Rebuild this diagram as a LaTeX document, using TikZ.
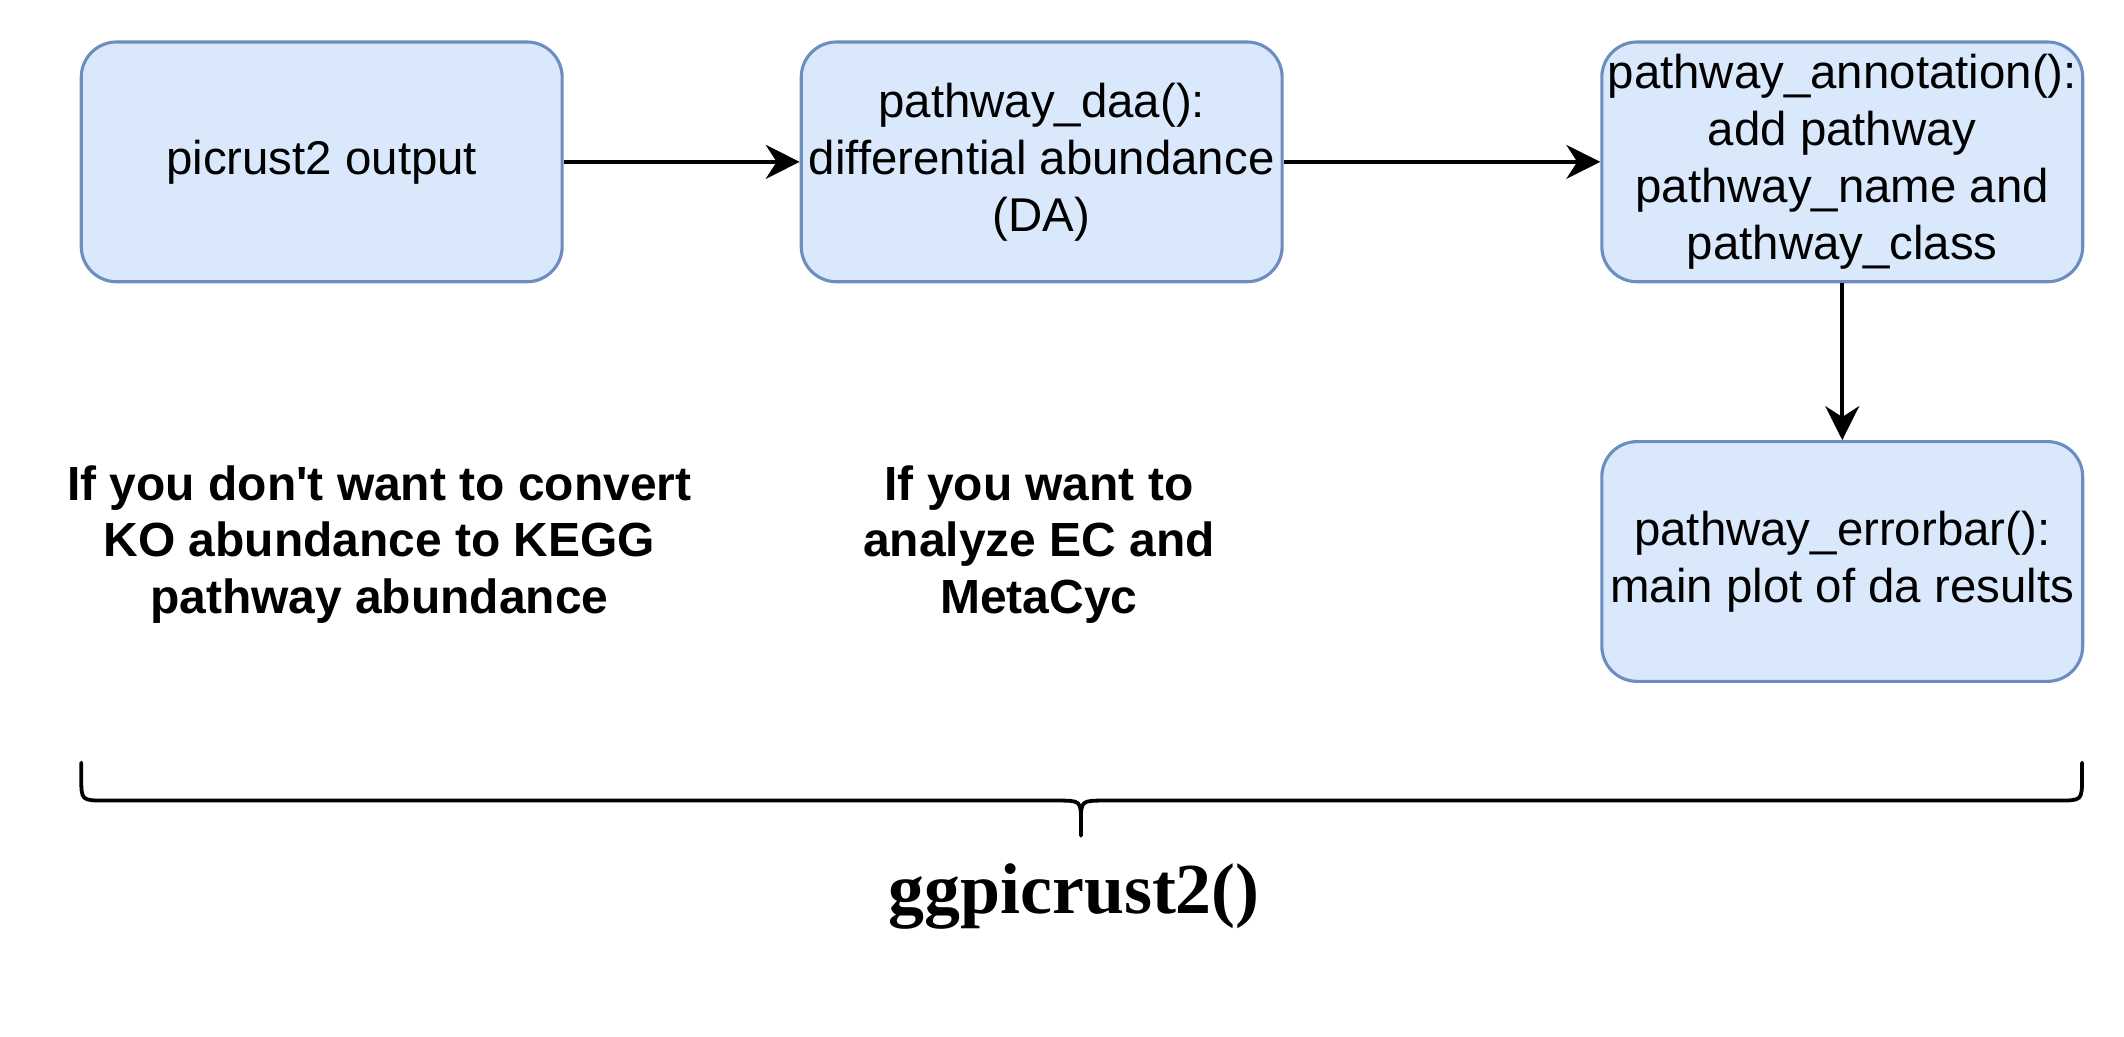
\documentclass[tikz,border=0pt]{standalone}
\usepackage{fontspec}
\setmainfont{Liberation Sans}[Ligatures=TeXOff]
\newfontfamily\titlefont{Liberation Serif}
\usetikzlibrary{arrows.meta}
\definecolor{boxfill}{HTML}{DAE8FC}
\definecolor{boxline}{HTML}{6C8EBF}
\begin{document}
\begin{tikzpicture}[x=1pt,y=-1pt,
  box/.style={draw=boxline, fill=boxfill, line width=2.3pt, rounded corners=26pt,
    minimum width=355pt, minimum height=177pt, align=center, inner sep=0pt,
    font=\fontsize{35}{42}\selectfont},
  note/.style={align=center, inner sep=0pt, font=\bfseries\fontsize{35.4}{42}\selectfont},
  flow/.style={line width=2.8pt, -{Stealth[length=25pt, width=25pt, inset=8pt]}},
  bracepath/.style={line width=2.8pt, line cap=round, line join=round}]
\useasboundingbox (0,0) rectangle (1568,765);
\node[box] (out) at (237.5,119.5) {picrust2 output};
\node[box] (daa) at (769,119.5) {pathway\_daa():\\differential abundance\\(DA)};
\node[box] (ann) at (1360,119.5) {pathway\_annotation():\\add pathway\\pathway\_name and\\pathway\_class};
\node[box] (err) at (1360,414.5) {pathway\_errorbar():\\main plot of da results};
\draw[flow] (out) -- (daa);
\draw[flow] (daa) -- (ann);
\draw[flow] (ann) -- (err);
\node[note] (ko) at (280,402) {If you don't want to convert\\KO abundance to KEGG\\pathway abundance};
\node[note] (ec) at (767,402) {If you want to\\analyze EC and\\MetaCyc};
\coordinate (bl) at (60,563);
\coordinate (br) at (1537,563);
\coordinate (bm) at (798,617);
\draw[bracepath] (bl) -- (60,574) .. controls (60,591) .. (78,591) -- (780,591)
  .. controls (798,591) .. (798,607) -- (bm);
\draw[bracepath] (798,607) .. controls (798,591) .. (816,591) -- (1519,591)
  .. controls (1537,591) .. (1537,574) -- (br);
\node[font=\titlefont\bfseries\fontsize{53}{60}\selectfont, inner sep=0pt] (title) at (793,662) {ggpicrust2()};
\end{tikzpicture}
\end{document}
